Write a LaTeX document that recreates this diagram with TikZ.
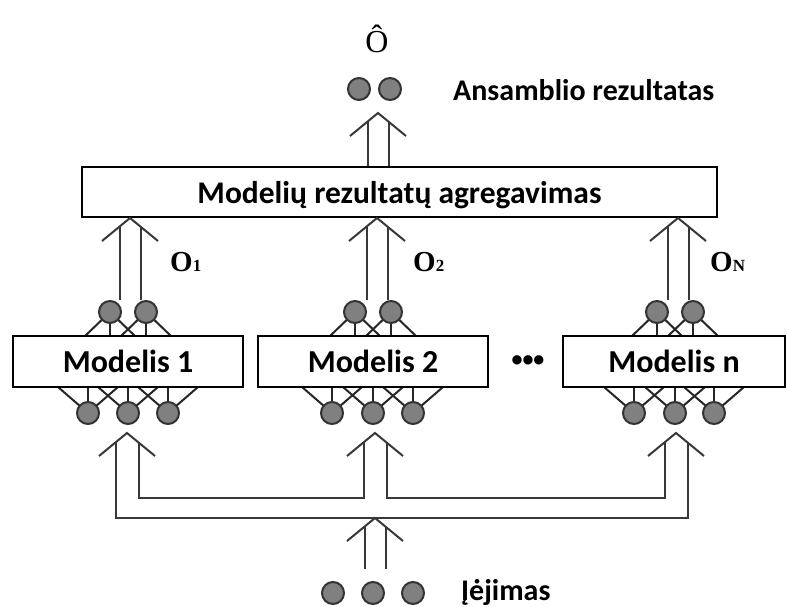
\documentclass[tikz,border=0pt]{standalone}
\usepackage{fontspec}
\setmainfont{Carlito}
\newfontfamily\timesfont{Liberation Serif}
\usetikzlibrary{calc,backgrounds}
\definecolor{neurongray}{HTML}{808080}
\definecolor{pipegray}{HTML}{383838}

\begin{document}
\begin{tikzpicture}[x=1pt, y=-1pt,
    neuron/.style={circle, draw=black!80, line width=2pt, fill=neurongray, minimum size=22pt, inner sep=0pt},
    modelbox/.style={draw, line width=2.5pt, fill=white, minimum width=230pt, minimum height=51pt, text depth=0pt, font=\fontsize{32}{32}\selectfont\bfseries},
    link/.style={line width=2pt, color=black!85},
    pipe/.style={line width=2pt, color=pipegray},
    shaft/.style={draw=pipegray, line width=2pt, double=white, double distance=19pt},
    olabel/.style={anchor=base west, inner sep=0pt, font=\timesfont\bfseries\fontsize{29}{29}\selectfont},
    note/.style={anchor=base west, inner sep=0pt, font=\bfseries\fontsize{30}{30}\selectfont}
]
\useasboundingbox (0,0) rectangle (787,606);

% aggregation and ensemble output
\node[modelbox, minimum width=635pt, minimum height=50pt, font=\fontsize{31.5}{31.5}\selectfont\bfseries] (agg) at (399.5,192) {Modelių rezultatų agregavimas};
\node[neuron] (y1) at (359,89) {};
\node[neuron] (y2) at (390,89) {};
\node[anchor=base, inner sep=0pt, font=\timesfont\fontsize{32}{32}\selectfont] (ohat) at (377,52) {Ô};
\node[note] (enslbl) at (453,100) {Ansamblio rezultatas};

% the three models
\node[modelbox] (m1) at (128,361.5) {Modelis 1};
\node[modelbox] (m2) at (373,361.5) {Modelis 2};
\node[modelbox, minimum width=222pt] (m3) at (674,361.5) {Modelis n};
\node[font=\bfseries\fontsize{22}{22}\selectfont] (dots) at (528,361) {•••};

\node[neuron] (m1a) at (110,312) {}; \node[neuron] (m1b) at (146,312) {};
\node[neuron] (m1c) at (88,413) {}; \node[neuron] (m1d) at (128,413) {}; \node[neuron] (m1e) at (168,413) {};
\node[neuron] (m2a) at (355,312) {}; \node[neuron] (m2b) at (391,312) {};
\node[neuron] (m2c) at (332,413) {}; \node[neuron] (m2d) at (373,413) {}; \node[neuron] (m2e) at (413,413) {};
\node[neuron] (m3a) at (657,312) {}; \node[neuron] (m3b) at (693,312) {};
\node[neuron] (m3c) at (634,413) {}; \node[neuron] (m3d) at (675,413) {}; \node[neuron] (m3e) at (714,413) {};

% model outputs
\node[olabel] (o1lbl) at (170,271) {O{\fontsize{17}{17}\selectfont 1}};
\node[olabel] (o2lbl) at (413,271) {O{\fontsize{17}{17}\selectfont 2}};
\node[olabel] (o3lbl) at (710,271) {O{\fontsize{17}{17}\selectfont N}};

% inputs
\node[neuron] (x1) at (333,593) {};
\node[neuron] (x2) at (373,593) {};
\node[neuron] (x3) at (413,593) {};
\node[note] (inlbl) at (461,600) {Įėjimas};

% hidden links behind the model boxes
\begin{scope}[on background layer]
\foreach \n in {m1a,m1b,m2a,m2b,m3a,m3b}
    \foreach \d in {-25,0,25} \draw[link] (\n.center) -- +(\d,24);
\foreach \n in {m1c,m1d,m1e,m2c,m2d,m2e,m3c,m3d,m3e}
    \foreach \d in {-30,0,30} \draw[link] (\n.center) -- +(\d,-26);
\end{scope}

% arrow tips
\coordinate (t0) at (378,113);
\coordinate (t1) at (130,218);
\coordinate (t2) at (377,218);
\coordinate (t3) at (678,218);
\coordinate (b1) at (127,433);
\coordinate (b2) at (375,433);
\coordinate (b3) at (676,433);
\coordinate (feed) at (375,518);

\draw[shaft] (agg.north -| t0) -- ($(t0)+(0,9)$);
\draw[shaft] (m1a.north -| t1) -- ($(t1)+(0,9)$);
\draw[shaft] (m2a.north -| t2) -- ($(t2)+(0,9)$);
\draw[shaft] (m3a.north -| t3) -- ($(t3)+(0,9)$);
\draw[shaft] ($(x2.north -| feed)+(0,-12)$) -- ($(feed)+(0,9)$);

% routing from the inputs to every model
\draw[pipe] ($(b1)+(-11.5,9)$) |- ($(b3)+(11.5,85)$) -- ($(b3)+(11.5,9)$);
\draw[pipe] ($(b1)+(11.5,9)$) |- ($(b2)+(-11.5,65)$) -- ($(b2)+(-11.5,9)$);
\draw[pipe] ($(b2)+(11.5,9)$) |- ($(b3)+(-11.5,65)$) -- ($(b3)+(-11.5,9)$);

\foreach \t in {t0,t1,t2,t3,b1,b2,b3,feed}
    \draw[pipe] ($(\t)+(-28,23)$) -- (\t) -- ($(\t)+(28,23)$);

\end{tikzpicture}
\end{document}
